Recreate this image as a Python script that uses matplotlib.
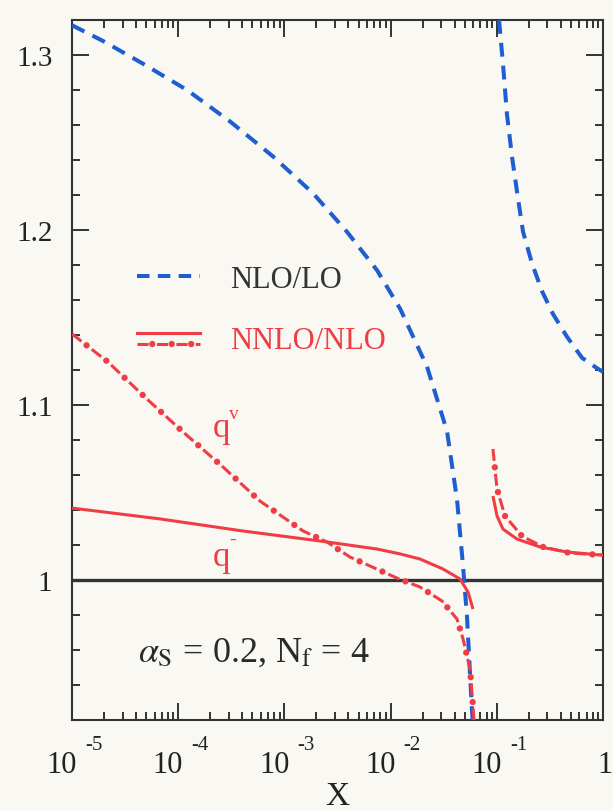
import matplotlib
matplotlib.use('Agg')
import matplotlib.pyplot as plt
from matplotlib.lines import Line2D
from matplotlib.legend_handler import HandlerBase
from matplotlib.ticker import FixedLocator, MultipleLocator, LogLocator, NullFormatter, FixedFormatter
from matplotlib.transforms import ScaledTranslation, blended_transform_factory

plt.rcParams['font.family'] = ['Liberation Serif', 'DejaVu Serif']
plt.rcParams['mathtext.fontset'] = 'stix'
plt.rcParams['lines.scale_dashes'] = False

# ---------------- data ----------------
# NLO/LO, branch below the pole
nlo_x_low = [1.00e-5, 1.96e-5, 4.67e-5, 1.21e-4, 3.08e-4, 7.82e-4, 1.86e-3, 3.88e-3,
             7.45e-3, 1.23e-2, 2.20e-2, 3.40e-2, 4.22e-2, 4.81e-2, 5.24e-2, 5.83e-2, 6.00e-2]
nlo_y_low = [1.317, 1.308, 1.295, 1.280, 1.262, 1.242, 1.221, 1.199,
             1.177, 1.155, 1.122, 1.085, 1.046, 1.008, 0.979, 0.926, 0.915]
# NLO/LO, branch above the pole
nlo_x_high = [0.1050, 0.1143, 0.1247, 0.1390, 0.1549, 0.1766, 0.2143, 0.2667,
              0.3381, 0.4581, 0.6339, 0.8790, 1.0]
nlo_y_high = [1.320, 1.295, 1.266, 1.242, 1.222, 1.199, 1.181, 1.165,
              1.152, 1.139, 1.127, 1.121, 1.119]

# NNLO/NLO, q-bar (solid)
qbar_x_low = [1.00e-5, 6.75e-5, 4.07e-4, 2.16e-3, 7.45e-3, 1.23e-2, 1.89e-2, 3.11e-2,
              4.50e-2, 5.36e-2, 5.97e-2]
qbar_y_low = [1.0411, 1.0349, 1.0280, 1.0223, 1.0177, 1.0149, 1.0120, 1.0063,
              1.0006, 0.9931, 0.9834]
qbar_x_high = [0.0920, 0.1005, 0.1143, 0.1549, 0.2553, 0.4581, 0.9376, 1.0]
qbar_y_high = [1.0480, 1.0366, 1.0291, 1.0234, 1.0189, 1.0160, 1.0143, 1.0143]

# NNLO/NLO, q^v (dash-dot)
qv_x_low = [1.00e-5, 2.18e-5, 5.08e-5, 1.11e-4, 2.64e-4, 5.89e-4, 1.50e-3, 2.52e-3,
            4.15e-3, 1.15e-2, 1.89e-2, 3.05e-2, 4.22e-2, 4.81e-2, 5.60e-2, 5.83e-2, 6.10e-2]
qv_y_low = [1.1406, 1.1246, 1.1034, 1.0846, 1.0646, 1.0451, 1.0280, 1.0217,
            1.0131, 1.0011, 0.9960, 0.9880, 0.9777, 0.9663, 0.9491, 0.9360, 0.9200]
qv_x_high = [0.0920, 0.1005, 0.1194, 0.1726, 0.2723, 0.4887, 1.0]
qv_y_high = [1.0749, 1.0520, 1.0366, 1.0251, 1.0189, 1.0154, 1.0143]

xtick_values = [1e-5, 1e-4, 1e-3, 1e-2, 1e-1, 1.0]
xtick_exponents = ['-5', '-4', '-3', '-2', '-1', None]
ytick_values = [1.0, 1.1, 1.2, 1.3]
ytick_labels = ['1', '1.1', '1.2', '1.3']
legend_labels = ['NLO/LO', 'NNLO/NLO']
annotation = r'$\alpha_{\rm S}$ = 0.2, N$_{\rm f}$ = 4'

# ---------------- style ----------------
BLUE = '#1f5ed0'
RED = '#f03c44'
DARK = '#333333'
BG = '#f9f8f3'
BLUE_DASH = (0, (10.0, 6.5))
RED_DASH = (0, (8.6, 9.4))
RED_DOT = (4.7, (0.01, 17.99))

fig = plt.figure(figsize=(6.13, 8.12), dpi=100)
fig.patch.set_facecolor(BG)
ax = fig.add_axes([72 / 613, 91 / 812, 531 / 613, 700 / 812])
ax.set_facecolor(BG)
ax.set_xscale('log')
ax.set_xlim(1e-5, 1.0)
ax.set_ylim(0.92, 1.32)

# reference line at 1
ax.axhline(1.0, color=DARK, lw=2.4, zorder=2)

# NLO/LO
for xs, ys in [(nlo_x_low, nlo_y_low), (nlo_x_high, nlo_y_high)]:
    ax.plot(xs, ys, color=BLUE, lw=2.9, linestyle=BLUE_DASH, zorder=3)

# q-bar solid
for xs, ys in [(qbar_x_low, qbar_y_low), (qbar_x_high, qbar_y_high)]:
    ax.plot(xs, ys, color=RED, lw=2.2, zorder=4, solid_capstyle='butt')

# q^v dash-dot
for xs, ys in [(qv_x_low, qv_y_low), (qv_x_high, qv_y_high)]:
    ax.plot(xs, ys, color=RED, lw=2.2, linestyle=RED_DASH, zorder=4)
    ax.plot(xs, ys, color=RED, lw=4.6, linestyle=RED_DOT, dash_capstyle='round', zorder=4)

# ---------------- axes, ticks ----------------
for sp in ax.spines.values():
    sp.set_linewidth(1.5)
    sp.set_color(DARK)

ax.yaxis.set_major_locator(FixedLocator(ytick_values))
ax.yaxis.set_major_formatter(FixedFormatter(ytick_labels))
ax.yaxis.set_minor_locator(MultipleLocator(0.02))
ax.xaxis.set_major_locator(FixedLocator(xtick_values))
ax.xaxis.set_minor_locator(LogLocator(base=10, subs=range(2, 10), numticks=20))
ax.xaxis.set_minor_formatter(NullFormatter())
ax.tick_params(which='both', direction='in', top=True, right=True, color=DARK, width=1.4)
ax.tick_params(which='major', length=12)
ax.tick_params(which='minor', length=6)
ax.tick_params(axis='y', labelsize=21, pad=14, labelcolor='#222222')
ax.tick_params(axis='x', labelbottom=False)

# x tick labels: "10" with raised exponent
trans = blended_transform_factory(ax.transData, ax.transAxes)
y_base = (721 - 773) / 700
y_sup = (721 - 750) / 700
for v, e in zip(xtick_values, xtick_exponents):
    if e is None:
        ax.text(v, y_base, '1', transform=trans + ScaledTranslation(0.02, 0, fig.dpi_scale_trans),
                ha='center', va='baseline', fontsize=22, color='#222222')
    else:
        ax.text(v, y_base, '10', transform=trans + ScaledTranslation(0.05, 0, fig.dpi_scale_trans),
                ha='right', va='baseline', fontsize=22, color='#222222')
        ax.text(v, y_sup, e, transform=trans + ScaledTranslation(0.13, 0, fig.dpi_scale_trans),
                ha='left', va='baseline', fontsize=15, color='#222222')

ax.set_xlabel('X', fontsize=24, color='#222222')
ax.xaxis.set_label_coords(0.5, -0.087)

# ---------------- legend ----------------
class HandlerStacked(HandlerBase):
    def create_artists(self, legend, orig_handle, xdescent, ydescent, width, height, fontsize, trans):
        yc = height / 2.0 - ydescent
        x0, x1 = -xdescent, -xdescent + width
        top = Line2D([x0, x1], [yc + 3.4, yc + 3.4], color=RED, lw=2.2, transform=trans)
        bot = Line2D([x0, x1], [yc - 4.6, yc - 4.6], color=RED, lw=2.2,
                     linestyle=(0, (8.0, 6.0)), transform=trans)
        dots = Line2D([x0, x1], [yc - 4.6, yc - 4.6], color=RED, lw=4.6,
                      linestyle=(3.0, (0.01, 13.99)), dash_capstyle='round', transform=trans)
        return [top, bot, dots]

blue_handle = Line2D([], [], color=BLUE, lw=2.9, linestyle=(0, (9.0, 6.0)))
red_handle = object()
leg = fig.legend([blue_handle, red_handle], legend_labels,
                 handler_map={object: HandlerStacked()},
                 loc='upper left', bbox_to_anchor=(137 / 613, 1 - 266 / 812),
                 frameon=False, fontsize=22, borderpad=0, borderaxespad=0,
                 handlelength=2.05, handletextpad=1.0, labelspacing=1.05)
leg.get_texts()[0].set_color('#333333')
leg.get_texts()[1].set_color(RED)

# ---------------- labels in the plot ----------------
fig.text(213 / 613, 1 - 437 / 812, 'q', fontsize=25, color=RED, va='baseline', ha='left')
fig.text(229 / 613, 1 - 419 / 812, 'v', fontsize=14, color=RED, va='baseline', ha='left')
fig.text(213 / 613, 1 - 566 / 812, 'q', fontsize=25, color=RED, va='baseline', ha='left')
fig.text(229 / 613, 1 - 545 / 812, '-', fontsize=14, color=RED, va='baseline', ha='left')

fig.text(138 / 613, 1 - 662 / 812, annotation, fontsize=26, color='#2a2a2a',
         va='baseline', ha='left')

fig.savefig('out.png', dpi=100, facecolor=BG)
